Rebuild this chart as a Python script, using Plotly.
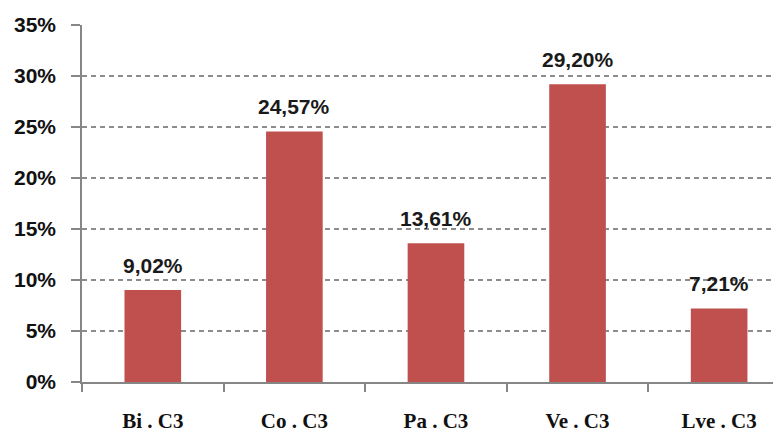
import plotly.graph_objects as go

categories = ["Bi . C3", "Co . C3", "Pa . C3", "Ve . C3", "Lve . C3"]
values = [9.02, 24.57, 13.61, 29.20, 7.21]
labels = ["9,02%", "24,57%", "13,61%", "29,20%", "7,21%"]
y_ticks = [0, 5, 10, 15, 20, 25, 30, 35]
y_ticktext = [f"{t}%" for t in y_ticks]

fig = go.Figure()
fig.add_trace(go.Bar(
    x=categories, y=values, width=0.4,
    marker=dict(color="#C0504D", line=dict(width=0)),
    hoverinfo="skip",
))
for c, v, t in zip(categories, values, labels):
    fig.add_annotation(x=c, y=v, text=t, showarrow=False, yshift=25,
                       font=dict(family="Liberation Sans", size=21, color="#1a1a1a", weight="bold"))

# page body has an 8px margin, so the figure is sized 8px smaller
fig.update_layout(
    width=773, height=427,
    margin=dict(l=74, r=0, t=17, b=53, autoexpand=False),
    paper_bgcolor="white", plot_bgcolor="white",
    showlegend=False, bargap=0.6,
)
fig.update_xaxes(
    type="category", range=[-0.5, 4.437], automargin=False,
    showline=True, linecolor="#868686", linewidth=1.5,
    ticks="outside", tickson="boundaries", ticklen=8, tickcolor="#868686", tickwidth=1.5,
    tickfont=dict(family="Liberation Serif", size=21, color="#111111", weight="bold"),
    ticklabelstandoff=19, showgrid=False,
)
fig.update_yaxes(
    range=[0, 35], tickvals=y_ticks, ticktext=y_ticktext, automargin=False,
    showline=True, linecolor="#868686", linewidth=1.5,
    ticks="outside", ticklen=9, tickcolor="#868686", tickwidth=1.5,
    tickfont=dict(family="Liberation Sans", size=21, color="#111111", weight="bold"),
    ticklabelstandoff=11,
    showgrid=True, gridcolor="#8c8c8c", gridwidth=1.5, griddash="5px,4px",
    zeroline=False,
)
fig.write_html("out.html")
